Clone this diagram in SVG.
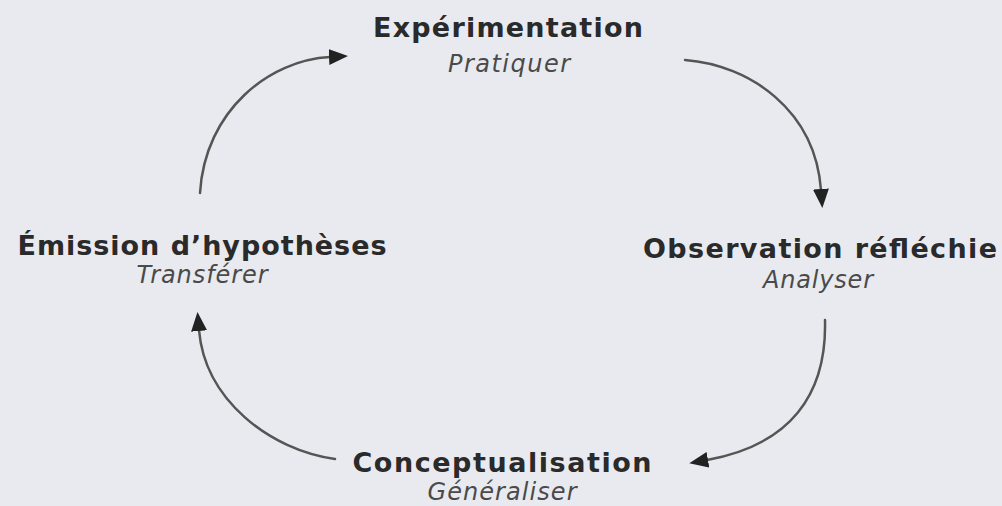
<svg xmlns="http://www.w3.org/2000/svg" width="1002" height="506" viewBox="0 0 1002 506">
<style>
.t{font-family:"DejaVu Sans","Liberation Sans",sans-serif;font-weight:bold;font-size:27px;fill:#2a2a2a;text-anchor:middle}
.s{font-family:"DejaVu Sans","Liberation Sans",sans-serif;font-style:italic;font-size:24px;fill:#4a4a4a;text-anchor:middle}
.c{fill:none;stroke:#555;stroke-width:2.5;stroke-linecap:round}
</style>
<defs>
<marker id="ah" markerUnits="userSpaceOnUse" markerWidth="20" markerHeight="18" refX="1" refY="8" orient="auto" viewBox="0 0 20 18">
<path d="M0,0 L19,8 L0,16 z" fill="#222"/>
</marker>
</defs>
<rect width="1002" height="506" fill="#e9eaef"/>
<g id="connectors">
<path class="c" d="M200,193 C205,110 270,60 330,57" marker-end="url(#ah)"/>
<path class="c" d="M685,60 C750,65 815,110 821,190" marker-end="url(#ah)"/>
<path class="c" d="M825,320 C827,395 790,445 707,460" marker-end="url(#ah)"/>
<path class="c" d="M335,459 C270,450 205,400 199,330" marker-end="url(#ah)"/>
</g>
<g id="experimentation">
<text class="t" x="508" y="37" textLength="270">Expérimentation</text>
<text class="s" x="509" y="72" textLength="122">Pratiquer</text>
</g>
<g id="observation">
<text class="t" x="820" y="258" textLength="354">Observation réfléchie</text>
<text class="s" x="818" y="288" textLength="110">Analyser</text>
</g>
<g id="conceptualisation">
<text class="t" x="502" y="472" textLength="299">Conceptualisation</text>
<text class="s" x="502" y="500" textLength="149">Généraliser</text>
</g>
<g id="emission">
<text class="t" x="202" y="255" textLength="369">Émission d’hypothèses</text>
<text class="s" x="202" y="283" textLength="131">Transférer</text>
</g>
</svg>
